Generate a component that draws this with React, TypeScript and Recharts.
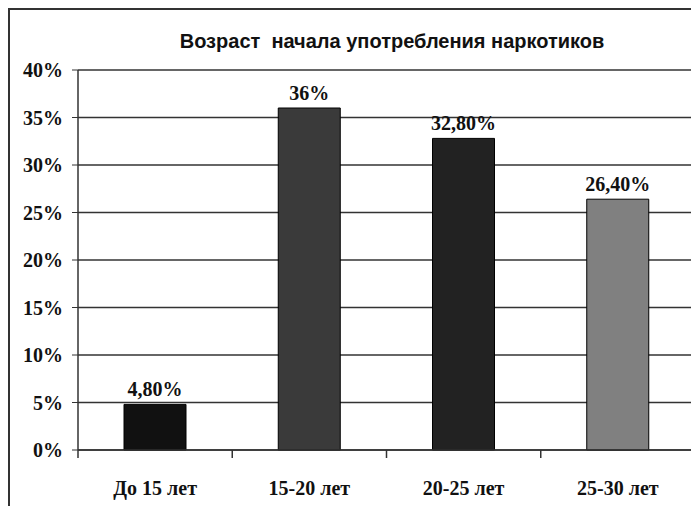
import React from "react";
import {
  BarChart,
  Bar,
  XAxis,
  YAxis,
  CartesianGrid,
  Cell,
  LabelList,
} from "recharts";

// возрастные группы
const categories = ["До 15 лет", "15-20 лет", "20-25 лет", "25-30 лет"];
// доля, %
const values = [4.8, 36, 32.8, 26.4];
// подписи над столбцами (как в оригинале)
const valueLabels = ["4,80%", "36%", "32,80%", "26,40%"];
const barColors = ["#111111", "#3a3a3a", "#222222", "#808080"];
const yTicks = [0, 5, 10, 15, 20, 25, 30, 35, 40];

const title = "Возраст  начала употребления наркотиков";

const serif = "'Liberation Serif', 'Times New Roman', serif";
const sans = "'Liberation Sans', Arial, sans-serif";

const TICK_MARGIN = 30;

// подпись категории + деления на границах категорий (как в Excel)
function CategoryTick(props: any) {
  const { x, y, payload, width, visibleTicksCount, index } = props;
  const band = width / visibleTicksCount;
  const base = y - TICK_MARGIN;
  return (
    <g>
      <line x1={x - band / 2} x2={x - band / 2} y1={base} y2={base + 8} stroke="#333" strokeWidth={1.5} />
      {index === visibleTicksCount - 1 && (
        <line x1={x + band / 2} x2={x + band / 2} y1={base} y2={base + 8} stroke="#333" strokeWidth={1.5} />
      )}
      <text
        x={x}
        y={y}
        dy="0.75em"
        textAnchor="middle"
        fontFamily={serif}
        fontWeight="bold"
        fontSize={20}
        fill="#111"
      >
        {payload.value}
      </text>
    </g>
  );
}

export default function App() {
  const data = categories.map((name, i) => ({
    name,
    value: values[i],
    label: valueLabels[i],
  }));

  return (
    <div
      style={{
        position: "relative",
        width: 689,
        height: 496,
        borderTop: "2px solid #333",
        borderLeft: "2px solid #333",
        background: "#fff",
      }}
    >
      <div
        style={{
          position: "absolute",
          left: 0,
          width: 764,
          top: 20,
          textAlign: "center",
          fontFamily: sans,
          fontWeight: "bold",
          fontSize: 20,
          color: "#111",
          whiteSpace: "pre",
        }}
      >
        {title}
      </div>
      <BarChart
        width={689}
        height={496}
        data={data}
        margin={{ top: 60, right: 4, bottom: 0, left: 0 }}
      >
        <CartesianGrid vertical={false} stroke="#333" strokeWidth={1.5} />
        <XAxis
          dataKey="name"
          tickLine={false}
          tickSize={0}
          tickMargin={TICK_MARGIN}
          height={56}
          interval={0}
          axisLine={{ stroke: "#333", strokeWidth: 1.5 }}
          tick={<CategoryTick />}
        />
        <YAxis
          domain={[0, 40]}
          ticks={yTicks}
          width={68}
          tickSize={6}
          tickMargin={9}
          tickFormatter={(v) => `${v}%`}
          stroke="#333"
          axisLine={{ stroke: "#333", strokeWidth: 1.5 }}
          tick={{ fontFamily: serif, fontWeight: "bold", fontSize: 20, fill: "#111" }}
        />
        <YAxis
          yAxisId="right"
          orientation="right"
          domain={[0, 40]}
          tick={false}
          tickLine={false}
          width={0}
          axisLine={{ stroke: "#333", strokeWidth: 1.5 }}
        />
        <Bar
          dataKey="value"
          barSize={62}
          stroke="#000"
          strokeWidth={1}
          isAnimationActive={false}
        >
          {data.map((d, i) => (
            <Cell key={d.name} fill={barColors[i]} />
          ))}
          <LabelList
            dataKey="label"
            position="top"
            offset={8}
            style={{ fontFamily: serif, fontWeight: "bold", fontSize: 20, fill: "#111" }}
          />
        </Bar>
      </BarChart>
    </div>
  );
}
